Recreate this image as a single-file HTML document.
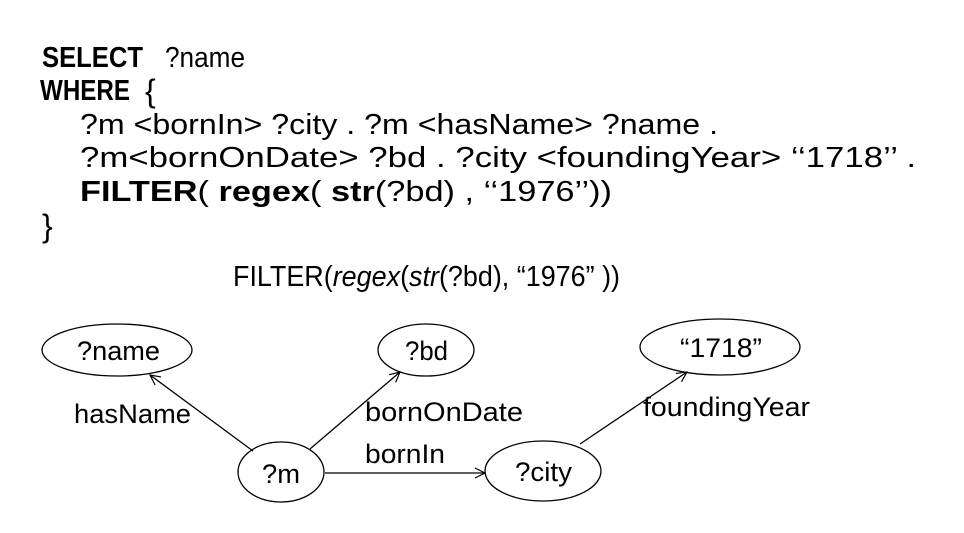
<!DOCTYPE html>
<html><head><meta charset="utf-8"><style>
html,body{margin:0;padding:0;background:#fff;}
svg{display:block;}
text{font-family:"Liberation Sans",sans-serif;fill:#000;}
</style></head><body>
<svg width="964" height="533" viewBox="0 0 964 533" xmlns="http://www.w3.org/2000/svg">
<defs>
<marker id="a" markerWidth="12" markerHeight="12" refX="11" refY="6" orient="auto" markerUnits="userSpaceOnUse">
<path d="M1,1 L11,6 L1,11" fill="none" stroke="#000" stroke-width="1.2"/>
</marker>
</defs>
<g font-size="29">
<text x="42" y="67" font-weight="bold" textLength="101" lengthAdjust="spacingAndGlyphs">SELECT</text>
<text x="165" y="67" textLength="80" lengthAdjust="spacingAndGlyphs">?name</text>
<text x="40" y="100" font-weight="bold" textLength="90" lengthAdjust="spacingAndGlyphs">WHERE</text>
<text x="145" y="102" font-size="32">{</text>
<text x="80" y="134" textLength="638" lengthAdjust="spacingAndGlyphs">?m &lt;bornIn&gt; ?city . ?m &lt;hasName&gt; ?name .</text>
<text x="80" y="167" textLength="836" lengthAdjust="spacingAndGlyphs">?m&lt;bornOnDate&gt; ?bd . ?city &lt;foundingYear&gt; ‘‘1718’’ .</text>
<text x="80" y="201" textLength="532" lengthAdjust="spacingAndGlyphs"><tspan font-weight="bold">FILTER</tspan>( <tspan font-weight="bold">regex</tspan>( <tspan font-weight="bold">str</tspan>(?bd) , ‘‘1976’’))</text>
<text x="42" y="237" font-size="32">}</text>
<text x="233" y="286" textLength="387" lengthAdjust="spacingAndGlyphs">FILTER(<tspan font-style="italic">regex</tspan>(<tspan font-style="italic">str</tspan>(?bd), “1976” ))</text>
</g>
<g fill="none" stroke="#000" stroke-width="1.3">
<ellipse cx="117" cy="350" rx="75" ry="26"/>
<ellipse cx="426" cy="350" rx="48" ry="26"/>
<ellipse cx="720" cy="347" rx="80" ry="28"/>
<ellipse cx="281" cy="472" rx="43" ry="30"/>
<ellipse cx="543" cy="471" rx="58" ry="30"/>
<line x1="253" y1="451" x2="150" y2="375" marker-end="url(#a)"/>
<line x1="310" y1="449" x2="400" y2="372" marker-end="url(#a)"/>
<line x1="325" y1="473" x2="485" y2="473" marker-end="url(#a)"/>
<line x1="580" y1="444" x2="687" y2="372" marker-end="url(#a)"/>
</g>
<g font-size="27">
<text x="77" y="360" textLength="83" lengthAdjust="spacingAndGlyphs">?name</text>
<text x="405" y="360" textLength="43" lengthAdjust="spacingAndGlyphs">?bd</text>
<text x="680" y="357" textLength="82" lengthAdjust="spacingAndGlyphs">“1718”</text>
<text x="262" y="483" textLength="38" lengthAdjust="spacingAndGlyphs">?m</text>
<text x="515" y="481" textLength="57" lengthAdjust="spacingAndGlyphs">?city</text>
<text x="74" y="423" textLength="117" lengthAdjust="spacingAndGlyphs">hasName</text>
<text x="365" y="421" textLength="158" lengthAdjust="spacingAndGlyphs">bornOnDate</text>
<text x="365" y="463" textLength="80" lengthAdjust="spacingAndGlyphs">bornIn</text>
<text x="643" y="416" textLength="167" lengthAdjust="spacingAndGlyphs">foundingYear</text>
</g>
</svg>
</body></html>
